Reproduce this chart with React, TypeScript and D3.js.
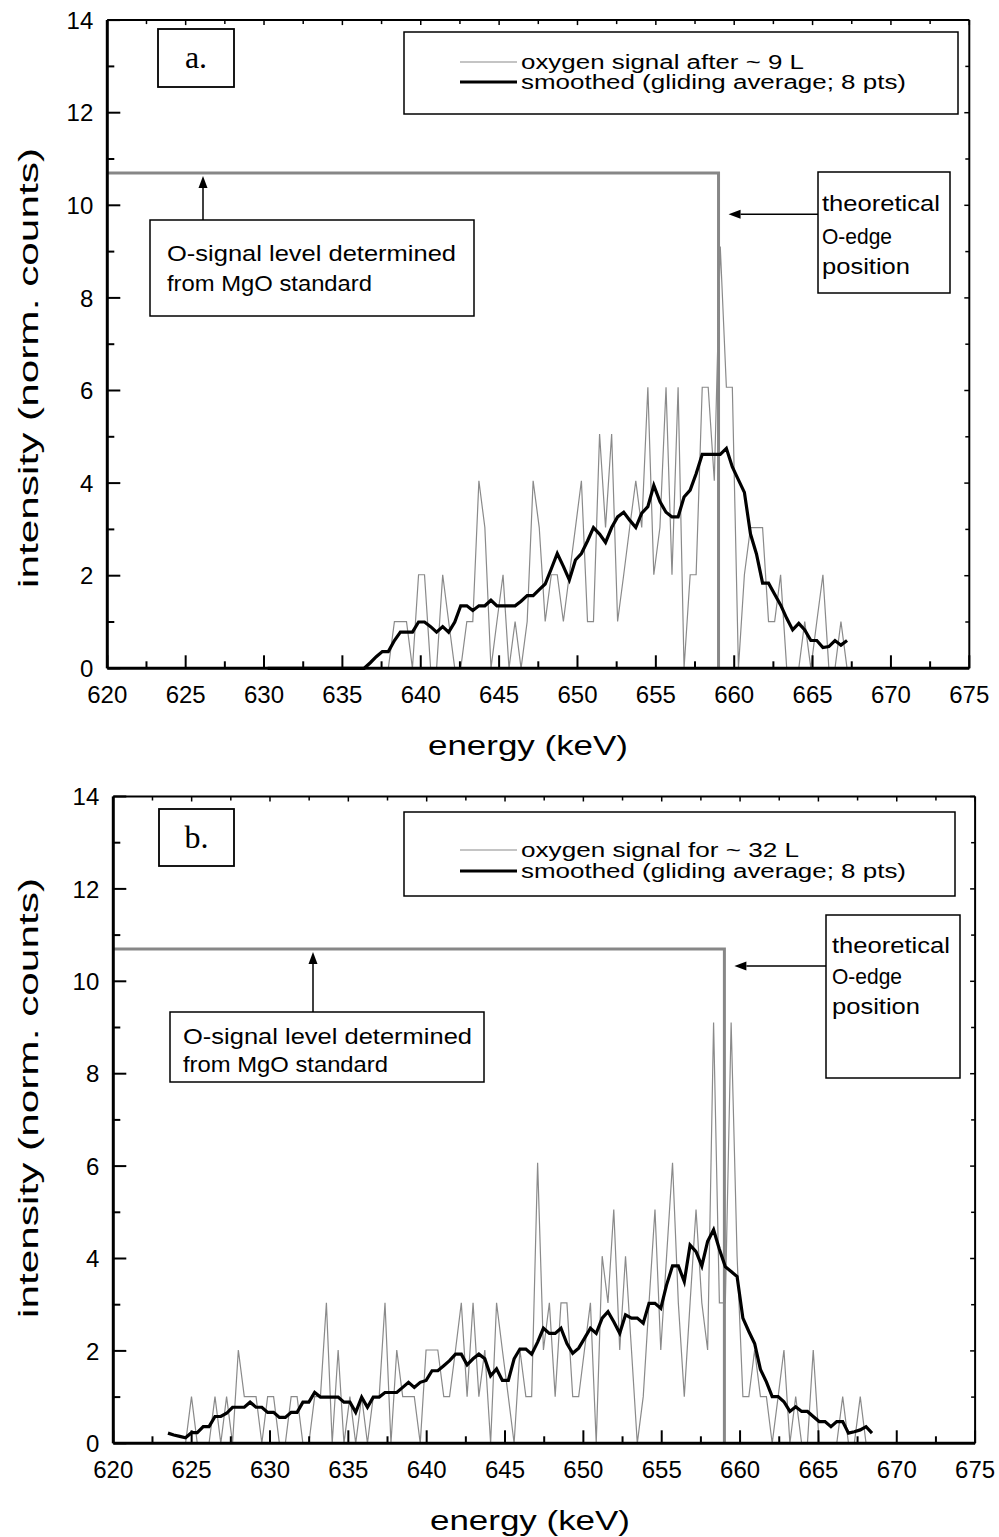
import React from "react";
import * as d3 from "d3";

// ---------------- DATA ----------------
// Panel a: energies (keV) of spectrometer channels
const energyA = [
  630.23, 630.61, 631.0, 631.38, 631.77, 632.15, 632.54, 632.92, 633.31, 633.69,
  634.08, 634.46, 634.85, 635.23, 635.62, 636.0, 636.39, 636.78, 637.16, 637.55,
  637.93, 638.32, 638.7, 639.09, 639.47, 639.86, 640.24, 640.63, 641.01, 641.4,
  641.78, 642.17, 642.55, 642.94, 643.32, 643.71, 644.09, 644.48, 644.86, 645.25,
  645.63, 646.02, 646.4, 646.79, 647.17, 647.56, 647.94, 648.33, 648.71, 649.1,
  649.48, 649.87, 650.25, 650.64, 651.02, 651.41, 651.79, 652.18, 652.56, 652.95,
  653.33, 653.72, 654.1, 654.49, 654.87, 655.26, 655.65, 656.03, 656.42, 656.8,
  657.19, 657.57, 657.96, 658.34, 658.73, 659.11, 659.5, 659.88, 660.27, 660.65,
  661.04, 661.42, 661.81, 662.19, 662.58, 662.96, 663.35, 663.73, 664.12, 664.5,
  664.89, 665.27, 665.66, 666.04, 666.43, 666.81, 667.2,
];
const rawA = [
  0, 0, 0, 0, 0, 0, 0, 0, 0, 0,
  0, 0, 0, 0, 0, 0, 0, 0, 0, 0,
  0, 1.01, 1.01, 1.01, 0, 2.02, 2.02, 0, 0, 2.02,
  1.01, 0, 0, 1.01, 1.01, 4.05, 3.04, 0, 1.01, 2.02,
  0, 1.01, 0, 1.01, 4.05, 3.04, 1.01, 2.02, 2.02, 1.01,
  2.02, 3.04, 4.05, 1.01, 1.01, 5.06, 3.04, 5.06, 1.01, 2.02,
  3.04, 4.05, 3.04, 6.07, 2.02, 3.04, 6.07, 2.02, 6.07, 0,
  2.02, 2.02, 6.07, 6.07, 4.05, 9.11, 6.07, 6.07, 0, 2.02,
  3.04, 3.04, 3.04, 1.01, 1.01, 2.02, 0, 0, 0, 1.01,
  0, 1.01, 2.02, 0, 0, 1.01, 0,
];
const smoothA = [
  0, 0, 0, 0, 0, 0, 0, 0, 0, 0,
  0, 0, 0, 0, 0, 0, 0, 0.12, 0.25, 0.36,
  0.36, 0.6, 0.78, 0.78, 0.78, 1.0, 1.0, 0.9, 0.78, 0.9,
  0.78, 1.0, 1.35, 1.35, 1.25, 1.35, 1.35, 1.47, 1.35, 1.35,
  1.35, 1.35, 1.45, 1.57, 1.57, 1.7, 1.82, 2.15, 2.48, 2.2,
  1.91, 2.34, 2.48, 2.75, 3.04, 2.9, 2.72, 3.04, 3.27, 3.37,
  3.2, 3.04, 3.35, 3.49, 3.95, 3.6, 3.37, 3.27, 3.27, 3.7,
  3.85, 4.2, 4.62, 4.62, 4.62, 4.62, 4.75, 4.35, 4.07, 3.8,
  2.9, 2.47, 1.84, 1.84, 1.6, 1.37, 1.08, 0.83, 0.97, 0.83,
  0.6, 0.6, 0.45, 0.47, 0.6, 0.5, 0.6,
];

// Panel b
const energyB = [
  623.49, 623.86, 624.24, 624.61, 624.99, 625.36, 625.74, 626.11, 626.49, 626.86,
  627.23, 627.61, 627.98, 628.36, 628.73, 629.11, 629.48, 629.85, 630.23, 630.6,
  630.98, 631.35, 631.73, 632.1, 632.48, 632.85, 633.22, 633.6, 633.97, 634.35,
  634.72, 635.1, 635.47, 635.85, 636.22, 636.59, 636.97, 637.34, 637.72, 638.09,
  638.47, 638.84, 639.21, 639.59, 639.96, 640.34, 640.71, 641.09, 641.46, 641.84,
  642.21, 642.58, 642.96, 643.33, 643.71, 644.08, 644.46, 644.83, 645.21, 645.58,
  645.95, 646.33, 646.7, 647.08, 647.45, 647.83, 648.2, 648.57, 648.95, 649.32,
  649.7, 650.07, 650.45, 650.82, 651.2, 651.57, 651.94, 652.32, 652.69, 653.07,
  653.44, 653.82, 654.19, 654.57, 654.94, 655.31, 655.69, 656.06, 656.44, 656.81,
  657.19, 657.56, 657.93, 658.31, 658.68, 659.06, 659.43, 659.81, 660.18, 660.56,
  660.93, 661.3, 661.68, 662.05, 662.43, 662.8, 663.18, 663.55, 663.93, 664.3,
  664.67, 665.05, 665.42, 665.8, 666.17, 666.55, 666.92, 667.29, 667.67, 668.04,
  668.42,
];
const rawB = [
  0, 0, 0, 0, 1.01, 0, 0, 0, 1.01, 0,
  1.01, 0, 2.02, 1.01, 1.01, 1.01, 0, 1.01, 1.01, 0,
  0, 1.01, 1.01, 0, 0, 1.01, 1.01, 3.04, 0, 2.02,
  0, 1.01, 0, 1.01, 0, 1.01, 1.01, 3.04, 0, 2.02,
  1.01, 1.01, 1.01, 0, 2.02, 2.02, 2.02, 1.01, 1.01, 2.02,
  3.04, 1.01, 3.04, 1.01, 2.02, 0, 3.04, 2.02, 1.01, 0,
  2.02, 1.01, 1.01, 6.07, 2.02, 3.04, 1.01, 3.04, 3.04, 1.01,
  1.01, 2.02, 3.04, 0, 4.05, 3.04, 5.06, 2.02, 4.05, 2.02,
  0, 1.01, 3.04, 5.06, 2.02, 4.05, 6.07, 3.04, 1.01, 3.04,
  5.06, 3.04, 2.02, 9.11, 3.04, 3.04, 9.11, 4.05, 1.01, 1.01,
  2.02, 1.01, 1.01, 0, 1.01, 2.02, 0, 1.01, 0, 0,
  2.02, 0, 0, 0, 0, 1.01, 0, 0, 1.01, 0,
  0,
];
const smoothB = [
  0.22, 0.18, 0.15, 0.12, 0.23, 0.23, 0.36, 0.36, 0.58, 0.58,
  0.65, 0.78, 0.78, 0.78, 0.89, 0.78, 0.78, 0.67, 0.67, 0.56,
  0.56, 0.67, 0.67, 0.89, 0.89, 1.1, 1.0, 1.0, 1.0, 1.0,
  0.89, 0.89, 0.67, 1.0, 0.78, 1.0, 1.0, 1.1, 1.1, 1.1,
  1.21, 1.32, 1.21, 1.32, 1.36, 1.57, 1.57, 1.68, 1.79, 1.93,
  1.93, 1.7, 1.83, 1.93, 1.83, 1.46, 1.61, 1.36, 1.36, 1.83,
  2.04, 2.04, 1.93, 2.19, 2.49, 2.38, 2.38, 2.49, 2.16, 1.95,
  2.06, 2.27, 2.49, 2.38, 2.71, 2.85, 2.63, 2.38, 2.78, 2.71,
  2.71, 2.6, 3.03, 3.03, 2.92, 3.43, 3.84, 3.84, 3.5, 4.29,
  4.15, 3.84, 4.37, 4.62, 4.2, 3.82, 3.72, 3.61, 2.71, 2.42,
  2.16, 1.6, 1.33, 1.01, 1.01, 0.9, 0.69, 0.79, 0.69, 0.69,
  0.58, 0.47, 0.47, 0.36, 0.47, 0.47, 0.22, 0.25, 0.29, 0.36,
  0.22,
];

const xTickValues = [620, 625, 630, 635, 640, 645, 650, 655, 660, 665, 670, 675];
const xMinorValues = [622.5, 627.5, 632.5, 637.5, 642.5, 647.5, 652.5, 657.5, 662.5, 667.5, 672.5];
const yTickValues = [0, 2, 4, 6, 8, 10, 12, 14];
const yMinorValues = [1, 3, 5, 7, 9, 11, 13];

const oSignalLevel = 10.7; // O-signal level from MgO standard
const oEdgeEnergy = 659.0; // theoretical O-edge position

const legendRawA = "oxygen signal after ~ 9 L";
const legendRawB = "oxygen signal for ~ 32 L";
const legendSmooth = "smoothed (gliding average; 8 pts)";

const FONT = "'Liberation Sans', Arial, Helvetica, sans-serif";
const SERIF = "'Liberation Serif', 'Times New Roman', serif";

type Box = [number, number, number, number];
type PanelProps = {
  frame: { left: number; right: number; top: number; bottom: number };
  energy: number[];
  raw: number[];
  smooth: number[];
  label: string;
  legendRaw: string;
  titleX: number;
  yTitleY: number;
  layout: {
    labelBox: Box;
    legendBox: Box;
    legendLineY: [number, number];
    legendSample: [number, number];
    legendTextX: number;
    legendTextW: [number, number];
    levelBox: Box;
    levelArrowX: number;
    levelText: { x: number; y: number[]; w: number[] };
    edgeBox: Box;
    edgeArrowY: number;
    edgeText: { x: number; y: number[]; w: number[] };
  };
};

function Arrow({ x1, y1, x2, y2 }: { x1: number; y1: number; x2: number; y2: number }) {
  const ang = Math.atan2(y2 - y1, x2 - x1);
  const L = 12, Wd = 4.5;
  const bx = x2 - L * Math.cos(ang), by = y2 - L * Math.sin(ang);
  const px = -Math.sin(ang) * Wd, py = Math.cos(ang) * Wd;
  return (
    <g>
      <line x1={x1} y1={y1} x2={bx} y2={by} stroke="#000" strokeWidth={1.5} />
      <path d={`M${x2},${y2} L${bx + px},${by + py} L${bx - px},${by - py} Z`} fill="#000" />
    </g>
  );
}

function Panel({ frame, energy, raw, smooth, label, legendRaw, titleX, yTitleY, layout }: PanelProps) {
  const { left, right, top, bottom } = frame;
  const x = d3.scaleLinear().domain([620, 675]).range([left, right]);
  const y = d3.scaleLinear().domain([0, 14]).range([bottom, top]);
  const line = d3
    .line<number>()
    .x((_, i) => x(energy[i]))
    .y((d) => y(d));
  const rawPath = line(raw) || "";
  const smoothPath = line(smooth) || "";
  const levelPath = `M${x(620)},${y(oSignalLevel)} L${x(oEdgeEnergy)},${y(oSignalLevel)} L${x(oEdgeEnergy)},${y(0)}`;
  const L = layout;
  const rect = (r: Box, sw: number) => (
    <rect x={r[0]} y={r[1]} width={r[2] - r[0]} height={r[3] - r[1]} fill="#fff" stroke="#000" strokeWidth={sw} />
  );
  return (
    <g>
      {/* data */}
      <path d={levelPath} fill="none" stroke="#878787" strokeWidth={3} />
      <path d={rawPath} fill="none" stroke="#8a8a8a" strokeWidth={1.2} strokeLinejoin="miter" />
      <path d={smoothPath} fill="none" stroke="#000" strokeWidth={3.2} strokeLinejoin="miter" />

      {/* axes frame */}
      <line x1={left} y1={bottom} x2={right} y2={bottom} stroke="#000" strokeWidth={3} />
      <line x1={left} y1={top} x2={left} y2={bottom} stroke="#000" strokeWidth={3} />
      <line x1={left} y1={top} x2={right} y2={top} stroke="#000" strokeWidth={2} />
      <line x1={right} y1={top} x2={right} y2={bottom} stroke="#000" strokeWidth={2} />

      {/* x ticks */}
      {xTickValues.map((v) => (
        <g key={"xt" + v}>
          <line x1={x(v)} x2={x(v)} y1={bottom} y2={bottom - 13} stroke="#000" strokeWidth={2} />
          <line x1={x(v)} x2={x(v)} y1={top} y2={top + 5} stroke="#000" strokeWidth={1.5} />
          <text x={x(v)} y={bottom + 35} textAnchor="middle" fontFamily={FONT} fontSize={24}>
            {v}
          </text>
        </g>
      ))}
      {xMinorValues.map((v) => (
        <g key={"xm" + v}>
          <line x1={x(v)} x2={x(v)} y1={bottom} y2={bottom - 7} stroke="#000" strokeWidth={2} />
          <line x1={x(v)} x2={x(v)} y1={top} y2={top + 4} stroke="#000" strokeWidth={1.5} />
        </g>
      ))}
      {/* y ticks */}
      {yTickValues.map((v) => (
        <g key={"yt" + v}>
          <line x1={left} x2={left + 13} y1={y(v)} y2={y(v)} stroke="#000" strokeWidth={2} />
          <line x1={right} x2={right - 5} y1={y(v)} y2={y(v)} stroke="#000" strokeWidth={1.5} />
          <text x={left - 14} y={y(v)} dy="0.36em" textAnchor="end" fontFamily={FONT} fontSize={24}>
            {v}
          </text>
        </g>
      ))}
      {yMinorValues.map((v) => (
        <g key={"ym" + v}>
          <line x1={left} x2={left + 7} y1={y(v)} y2={y(v)} stroke="#000" strokeWidth={2} />
          <line x1={right} x2={right - 4} y1={y(v)} y2={y(v)} stroke="#000" strokeWidth={1.5} />
        </g>
      ))}

      {/* axis titles */}
      <text x={titleX} y={bottom + 87} textAnchor="middle" fontFamily={FONT} fontSize={27} textLength={200} lengthAdjust="spacingAndGlyphs">
        energy (keV)
      </text>
      <text
        transform={`translate(38, ${yTitleY}) rotate(-90)`}
        textAnchor="middle"
        fontFamily={FONT}
        fontSize={27}
        textLength={440}
        lengthAdjust="spacingAndGlyphs"
      >
        intensity (norm. counts)
      </text>

      {/* label box */}
      {rect(L.labelBox, 1.8)}
      <text
        x={(L.labelBox[0] + L.labelBox[2]) / 2}
        y={(L.labelBox[1] + L.labelBox[3]) / 2 + 10}
        textAnchor="middle"
        fontFamily={SERIF}
        fontSize={32}
      >
        {label}
      </text>

      {/* legend */}
      {rect(L.legendBox, 1.5)}
      <line x1={L.legendSample[0]} x2={L.legendSample[1]} y1={L.legendLineY[0]} y2={L.legendLineY[0]} stroke="#8a8a8a" strokeWidth={1.2} />
      <line x1={L.legendSample[0]} x2={L.legendSample[1]} y1={L.legendLineY[1]} y2={L.legendLineY[1]} stroke="#000" strokeWidth={3.2} />
      <text x={L.legendTextX} y={L.legendLineY[0]} dy="0.36em" fontFamily={FONT} fontSize={20} textLength={L.legendTextW[0]} lengthAdjust="spacingAndGlyphs">
        {legendRaw}
      </text>
      <text x={L.legendTextX} y={L.legendLineY[1]} dy="0.36em" fontFamily={FONT} fontSize={20} textLength={L.legendTextW[1]} lengthAdjust="spacingAndGlyphs">
        {legendSmooth}
      </text>

      {/* O-signal level annotation */}
      {rect(L.levelBox, 1.5)}
      <Arrow x1={L.levelArrowX} y1={L.levelBox[1]} x2={L.levelArrowX} y2={y(oSignalLevel) + 3} />
      {["O-signal level determined", "from MgO standard"].map((t, i) => (
        <text key={t} x={L.levelText.x} y={L.levelText.y[i]} dy="0.36em" fontFamily={FONT} fontSize={22} textLength={L.levelText.w[i]} lengthAdjust="spacingAndGlyphs">
          {t}
        </text>
      ))}

      {/* O-edge annotation */}
      {rect(L.edgeBox, 1.5)}
      <Arrow x1={L.edgeBox[0]} y1={L.edgeArrowY} x2={x(oEdgeEnergy) + 10} y2={L.edgeArrowY} />
      {["theoretical", "O-edge", "position"].map((t, i) => (
        <text key={t} x={L.edgeText.x} y={L.edgeText.y[i]} dy="0.36em" fontFamily={FONT} fontSize={22} textLength={L.edgeText.w[i]} lengthAdjust="spacingAndGlyphs">
          {t}
        </text>
      ))}
    </g>
  );
}

export default function App() {
  return (
    <svg
      width={999}
      height={1537}
      viewBox="0 0 999 1537"
      style={{ position: "absolute", left: 0, top: 0, background: "#fff" }}
    >
      <rect x={0} y={0} width={999} height={1537} fill="#fff" />
      <Panel
        frame={{ left: 107.3, right: 969.3, top: 20.1, bottom: 668.3 }}
        energy={energyA}
        raw={rawA}
        smooth={smoothA}
        label="a."
        legendRaw={legendRawA}
        titleX={528}
        yTitleY={368}
        layout={{
          labelBox: [158, 29, 234, 87],
          legendBox: [404, 32, 958, 114],
          legendLineY: [62, 82],
          legendSample: [460, 517],
          legendTextX: 521,
          legendTextW: [283, 385],
          levelBox: [150, 220, 474, 316],
          levelArrowX: 203,
          levelText: { x: 167, y: [253, 283], w: [289, 205] },
          edgeBox: [818, 172, 950, 293],
          edgeArrowY: 214.3,
          edgeText: { x: 822, y: [203, 236, 266], w: [118, 70, 88] },
        }}
      />
      <Panel
        frame={{ left: 113.3, right: 975.1, top: 796.5, bottom: 1443.3 }}
        energy={energyB}
        raw={rawB}
        smooth={smoothB}
        label="b."
        legendRaw={legendRawB}
        titleX={530}
        yTitleY={1098}
        layout={{
          labelBox: [159, 809, 234, 866],
          legendBox: [404, 812, 955, 896],
          legendLineY: [850, 871],
          legendSample: [460, 517],
          legendTextX: 521,
          legendTextW: [278, 385],
          levelBox: [170, 1012, 484, 1082],
          levelArrowX: 313,
          levelText: { x: 183, y: [1036, 1064], w: [289, 205] },
          edgeBox: [826, 915, 960, 1078],
          edgeArrowY: 966,
          edgeText: { x: 832, y: [945, 976, 1006], w: [118, 70, 88] },
        }}
      />
    </svg>
  );
}
